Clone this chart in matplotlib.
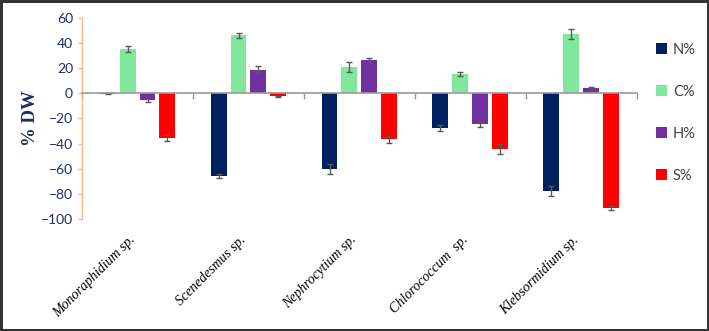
"""Elemental composition change (% DW) for five microalgae."""

import matplotlib

matplotlib.use("Agg")
import matplotlib.pyplot as plt  # noqa: E402
import numpy as np  # noqa: E402
from matplotlib.patches import Patch  # noqa: E402

# ----------------------------------------------------------------------------
# Data
# ----------------------------------------------------------------------------
species = ["Monoraphidium sp.", "Scenedesmus sp.", "Nephrocytium sp.",
           "Chlorococcum  sp.", "Klebsormidium sp."]
series = ["N%", "C%", "H%", "S%"]

n_vals = [-0.5, -66, -60.5, -27.5, -78]
c_vals = [35.2, 45.8, 20.6, 15.0, 47.0]
h_vals = [-5.8, 18.6, 26.0, -24.8, 3.7]
s_vals = [-35.4, -2.6, -36.7, -44.7, -91.0]

n_err = [0.5, 1.5, 4.0, 2.4, 4.0]
c_err = [2.5, 2.0, 4.0, 1.5, 4.0]
h_err = [1.5, 3.0, 2.0, 2.0, 1.0]
s_err = [2.5, 0.5, 2.5, 4.0, 1.5]

colors = ["#002060", "#80E89C", "#7030A0", "#FF0000"]

# ----------------------------------------------------------------------------
# Plot
# ----------------------------------------------------------------------------
navy = "#1F2D6B"
fig = plt.figure(figsize=(7.09, 3.31), dpi=100)
fig.patch.set_edgecolor("#333333")
fig.patch.set_linewidth(2.5)
ax = fig.add_axes([0.1157, 0.338, 0.7826, 0.609])

x = np.arange(len(species))
width = 0.144
step = 0.18
vals = [n_vals, c_vals, h_vals, s_vals]
errs = [n_err, c_err, h_err, s_err]
for i, (v, e, col) in enumerate(zip(vals, errs, colors)):
    ax.bar(x + (i - 1.5) * step, v, width, color=col, zorder=2,
           yerr=e, error_kw=dict(ecolor="#595959", elinewidth=1.0,
                                 capsize=2.5, capthick=1.0))

ax.set_xlim(-0.5, len(species) - 0.5)
ax.set_ylim(-100, 60)
ax.set_yticks(np.arange(-100, 61, 20))

# spines
ax.spines["top"].set_visible(False)
ax.spines["right"].set_visible(False)
ax.spines["left"].set_color("#F5B88A")
ax.spines["left"].set_linewidth(1.0)
ax.spines["bottom"].set_position(("data", 0))
ax.spines["bottom"].set_color("#9A9A9A")
ax.spines["bottom"].set_linewidth(1.2)
ax.spines["bottom"].set_zorder(3)

ax.tick_params(axis="y", colors="#F5B88A", labelcolor=navy, labelsize=10,
               length=3, width=1.0)
for t in ax.get_yticklabels():
    t.set_family("Lato")

# category boundary ticks on the zero line
ax.set_xticks(np.arange(-0.5, len(species), 1.0))
ax.tick_params(axis="x", colors="#9A9A9A", length=4, width=1.0,
               labelbottom=False)

# category labels at the bottom of the axes
sec = ax.secondary_xaxis(0.0)
sec.set_xticks(x)
sec.set_xticklabels(species, rotation=45, ha="right", fontstyle="italic",
                    family="Liberation Serif", fontsize=10)
sec.tick_params(length=0, pad=10)
sec.spines["bottom"].set_visible(False)

ax.set_ylabel("% DW", family="Liberation Serif", fontweight="bold",
              fontsize=13.5, color=navy)
ax.yaxis.set_label_coords(-0.078, 0.5)

handles = [Patch(facecolor=c, label=s) for c, s in zip(colors, series)]
fig.legend(handles=handles, loc="upper left", bbox_to_anchor=(0.907, 0.91),
           frameon=False, handlelength=0.75, handleheight=0.75,
           handletextpad=0.4, labelspacing=1.92,
           prop={"family": "Lato", "size": 10.5}, labelcolor="#404040")

fig.savefig("out.png", dpi=100)
plt.close(fig)
